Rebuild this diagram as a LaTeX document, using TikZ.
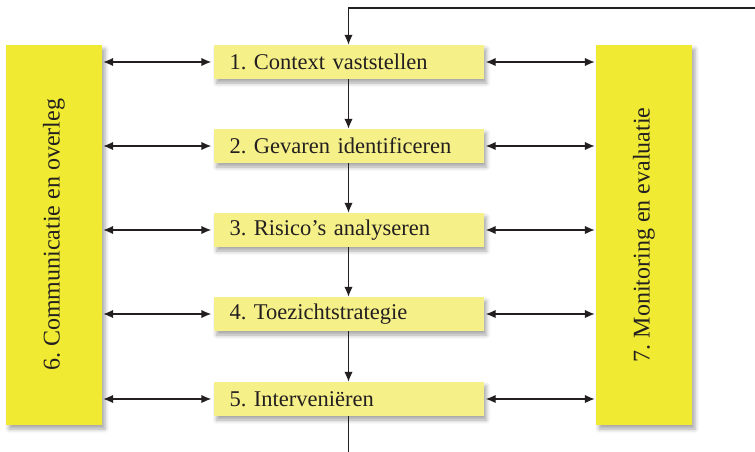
\documentclass[tikz,border=0pt]{standalone}
\usepackage{fontspec}
\setmainfont{Liberation Serif}
\usetikzlibrary{positioning, shapes, arrows.meta, calc, shadows.blur}

\definecolor{sideyellow}{HTML}{F0EB32}
\definecolor{stepyellow}{HTML}{F5F088}
\definecolor{linegrey}{HTML}{231F20}

\tikzset{
    stepbox/.style={fill=stepyellow,
        minimum width=270pt,
        minimum height=34pt,
        text width=238pt,
        inner xsep=16pt,
        align=left,
        font=\fontsize{22.5}{26}\selectfont,
        blur shadow={shadow xshift=3pt, shadow yshift=-4pt,
            shadow blur radius=4pt, shadow opacity=35}},
    sidebox/.style={fill=sideyellow,
        minimum width=96pt,
        minimum height=380pt,
        font=\fontsize{24}{28}\selectfont,
        blur shadow={shadow xshift=3pt, shadow yshift=-4pt,
            shadow blur radius=4pt, shadow opacity=35}},
    link/.style={{Latex[length=10pt,width=8.5pt]}-{Latex[length=10pt,width=8.5pt]},
        line width=1.4pt, draw=linegrey},
    flow/.style={-{Latex[length=10pt,width=8.5pt]},
        line width=1.4pt, draw=linegrey}
}

\begin{document}
\frenchspacing
\begin{tikzpicture}[x=1pt, y=-1pt, text=linegrey]
\useasboundingbox (0,0) rectangle (755,452);

\node[stepbox] (context) at (348.5,62) {1. Context vaststellen};
\node[stepbox] (gevaren) at ($(context) + (0,84)$) {2. Gevaren identificeren};
\node[stepbox] (risico) at ($(gevaren) + (0,84)$) {3. Risico’s analyseren};
\node[stepbox] (toezicht) at ($(risico) + (0,84)$) {4. Toezichtstrategie};
\node[stepbox] (interv) at ($(toezicht) + (0,85)$) {5. Interveniëren};

\node[sidebox] (comm) at (54,235) {\rotatebox{90}{6. Communicatie en overleg}};
\node[sidebox] (monit) at (644,235) {\rotatebox{90}{7. Monitoring en evaluatie}};

\coordinate (feedback) at (755,8);
\coordinate (outflow) at (interv.south |- 0,452);

\draw [flow]
    (feedback) -| (context.north);

\draw [flow] (context) -- (gevaren);
\draw [flow] (gevaren) -- (risico);
\draw [flow] (risico) -- (toezicht);
\draw [flow] (toezicht) -- (interv);

\draw [flow, -] (interv.south) -- (outflow);

\draw [link, shorten <=1pt, shorten >=2pt]
    (comm.east |- context) -- (context.west);
\draw [link, shorten <=1pt, shorten >=2pt]
    (comm.east |- gevaren) -- (gevaren.west);
\draw [link, shorten <=1pt, shorten >=2pt]
    (comm.east |- risico) -- (risico.west);
\draw [link, shorten <=1pt, shorten >=2pt]
    (comm.east |- toezicht) -- (toezicht.west);
\draw [link, shorten <=1pt, shorten >=2pt]
    (comm.east |- interv) -- (interv.west);

\draw [link, shorten <=2pt, shorten >=1pt]
    (context.east) -- (monit.west |- context);
\draw [link, shorten <=2pt, shorten >=1pt]
    (gevaren.east) -- (monit.west |- gevaren);
\draw [link, shorten <=2pt, shorten >=1pt]
    (risico.east) -- (monit.west |- risico);
\draw [link, shorten <=2pt, shorten >=1pt]
    (toezicht.east) -- (monit.west |- toezicht);
\draw [link, shorten <=2pt, shorten >=1pt]
    (interv.east) -- (monit.west |- interv);

\end{tikzpicture}
\end{document}
